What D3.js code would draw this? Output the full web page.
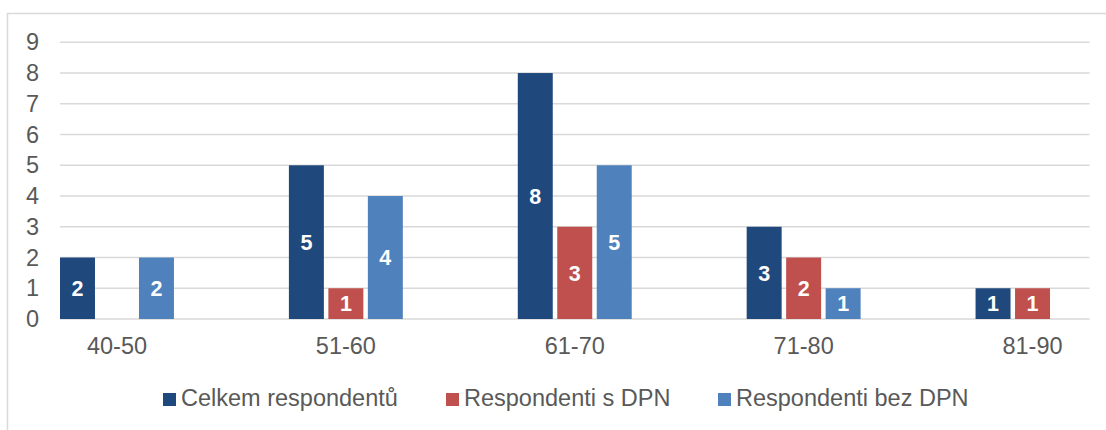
<!DOCTYPE html>
<html><head><meta charset="utf-8">
<script src="https://cdn.jsdelivr.net/npm/d3@7"></script>
<style>
html,body{margin:0;padding:0;background:#fff;}
svg{display:block;font-family:"Liberation Sans",Arial,sans-serif;}
</style></head>
<body>
<svg id="chart" width="1106" height="430"></svg>
<script>
const categories = ["40-50","51-60","61-70","71-80","81-90"];
const seriesNames = ["Celkem respondentů","Respondenti s DPN","Respondenti bez DPN"];
const celkem = [2,5,8,3,1];
const sDPN = [0,1,3,2,1];
const bezDPN = [2,4,5,1,0];
const yTicks = [0,1,2,3,4,5,6,7,8,9];
const colors = ["#1F497D","#C0504D","#4F81BD"];

const seriesValues = [celkem, sDPN, bezDPN];
const svg = d3.select("#chart");

// frame
svg.append("path").attr("d","M7.5,440 V13.5 H1110")
  .attr("fill","none").attr("stroke","#d9d9d9").attr("stroke-width",1.5);

const plotL = 60, plotR = 1089.5, y0 = 319, y9 = 42.3;
const y = d3.scaleLinear().domain([0,9]).range([y0,y9]);
const x0 = d3.scaleBand().domain(categories).range([plotL, plotR])
  .paddingInner(115/229).paddingOuter(0).align(0);
const x1 = d3.scaleBand().domain(seriesNames).range([0, x0.bandwidth()]).paddingInner(0.114).paddingOuter(0);

// gridlines
svg.append("g").selectAll("line").data(yTicks).join("line")
  .attr("x1",plotL).attr("x2",plotR)
  .attr("y1",d=>y(d)).attr("y2",d=>y(d))
  .attr("stroke","#d9d9d9").attr("stroke-width",1.5);

const fontSz = 23.5;
// y axis labels
const yAxis = d3.axisLeft(y).tickValues(yTicks).tickSize(0).tickPadding(0).tickFormat(d3.format("d"));
const ya = svg.append("g").attr("transform","translate(39,0)").call(yAxis);
ya.select(".domain").remove();
ya.selectAll("text").attr("font-size",fontSz).attr("fill","#595959")
  .attr("font-family","'Liberation Sans',Arial,sans-serif");

// x labels
const xAxis = d3.axisBottom(x0).tickSize(0).tickPadding(0);
const xa = svg.append("g").attr("transform","translate(0,337)").call(xAxis);
xa.select(".domain").remove();
xa.selectAll("text").attr("font-size",fontSz).attr("fill","#595959")
  .attr("font-family","'Liberation Sans',Arial,sans-serif");

// bars
const data = [];
categories.forEach((c,i)=>seriesNames.forEach((s,j)=>{
  data.push({cat:c, ser:s, j:j, v:seriesValues[j][i]});
}));
const bars = data.filter(d=>d.v>0);
svg.append("g").selectAll("rect").data(bars).join("rect")
  .attr("x",d=>x0(d.cat)+x1(d.ser))
  .attr("width",x1.bandwidth())
  .attr("y",d=>y(d.v))
  .attr("height",d=>y(0)-y(d.v))
  .attr("fill",d=>colors[d.j]);

svg.append("g").selectAll("text").data(bars).join("text")
  .attr("x",d=>x0(d.cat)+x1(d.ser)+x1.bandwidth()/2)
  .attr("y",d=>(y(d.v)+y(0))/2)
  .attr("dy","0.36em")
  .attr("text-anchor","middle")
  .attr("font-size",21.5).attr("font-weight","bold").attr("fill","#fff")
  .text(d=>d.v);

// legend
const legendX = [163, 446, 718];
const lg = svg.append("g").selectAll("g").data(seriesNames).join("g")
  .attr("transform",(d,i)=>`translate(${legendX[i]},393)`);
lg.append("rect").attr("width",13).attr("height",13).attr("fill",(d,i)=>colors[i]);
lg.append("text").attr("x",18).attr("y",12.5)
  .attr("font-size",fontSz).attr("fill","#595959").text(d=>d);
</script>
</body></html>
